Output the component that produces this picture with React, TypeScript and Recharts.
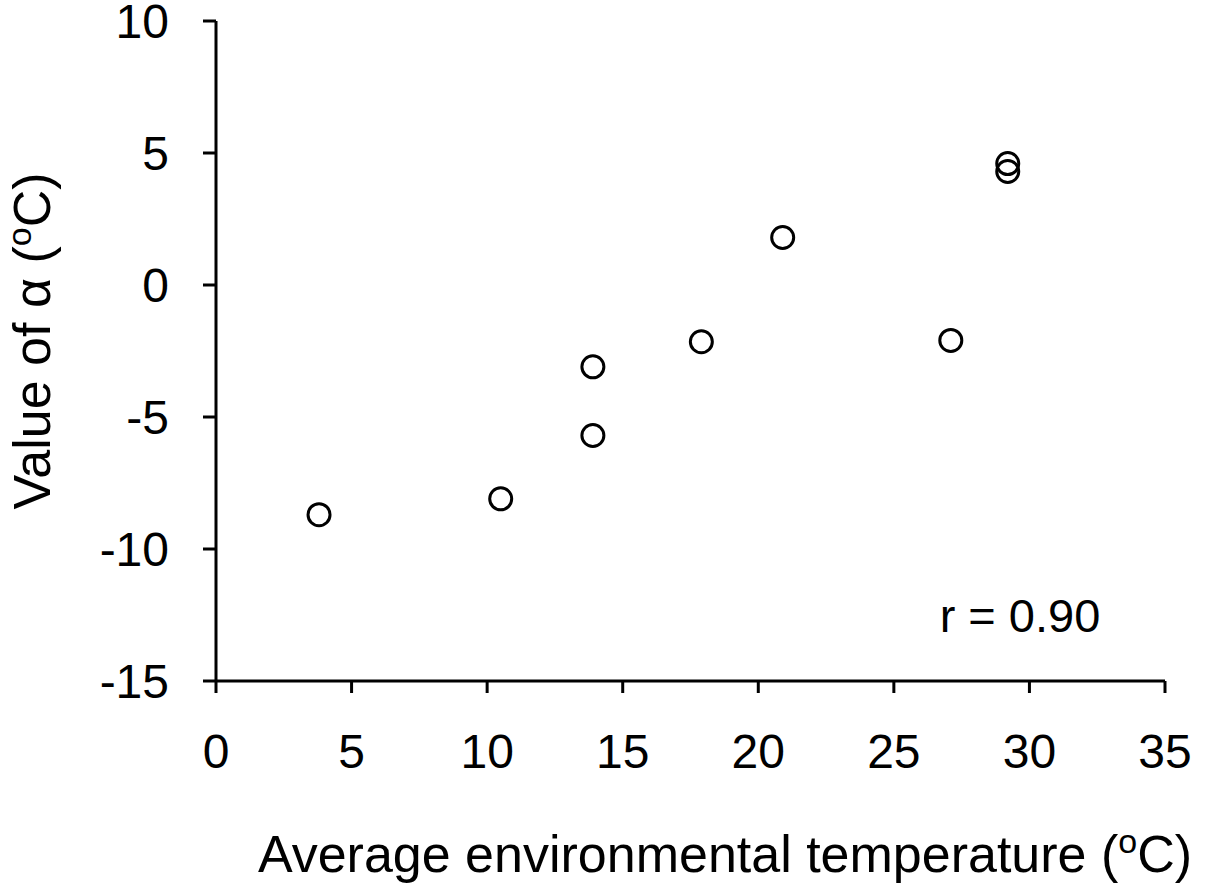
import React from "react";
import { ScatterChart, Scatter, XAxis, YAxis, Customized } from "recharts";

const temps = [3.8, 10.5, 13.9, 13.9, 17.9, 20.9, 27.1, 29.2, 29.2];
const alphas = [-8.7, -8.1, -3.1, -5.7, -2.15, 1.8, -2.1, 4.6, 4.3];
const xTicks = [0, 5, 10, 15, 20, 25, 30, 35];
const yTicks = [-15, -10, -5, 0, 5, 10];

const data = temps.map((t, i) => ({ x: t, y: alphas[i] }));

const font = "'Liberation Sans', Arial, sans-serif";

const Ring = (props: any) => (
  <circle cx={props.cx} cy={props.cy} r={11} fill="none" stroke="#000" strokeWidth={3} />
);

const Titles = () => (
  <g fontFamily={font} fill="#000">
    <text x={725} y={872} fontSize={52} textAnchor="middle">
      Average environmental temperature (
      <tspan fontSize={34} dy={-19}>o</tspan>
      <tspan dy={19}>C)</tspan>
    </text>
    <text x={50} y={341} fontSize={52} textAnchor="middle" transform="rotate(-90, 50, 341)">
      Value of α (
      <tspan fontSize={34} dy={-19}>o</tspan>
      <tspan dy={19}>C)</tspan>
    </text>
    <text x={1020} y={632} fontSize={47} textAnchor="middle">
      r = 0.90
    </text>
  </g>
);

export default function App() {
  return (
    <div style={{ position: "absolute", left: 0, top: 0, background: "#fff" }}>
      <ScatterChart width={1212} height={883} margin={{ top: 21, right: 47, left: 0, bottom: 0 }}>
        <XAxis
          type="number"
          dataKey="x"
          domain={[0, 35]}
          ticks={xTicks}
          height={202}
          tickSize={12}
          tickMargin={41}
          axisLine={{ stroke: "#000", strokeWidth: 3 }}
          tickLine={{ stroke: "#000", strokeWidth: 3 }}
          tick={{ fill: "#000", fontSize: 48, fontFamily: font }}
          interval={0}
        />
        <YAxis
          type="number"
          dataKey="y"
          domain={[-15, 10]}
          ticks={yTicks}
          width={216}
          tickSize={13}
          tickMargin={34}
          axisLine={{ stroke: "#000", strokeWidth: 3 }}
          tickLine={{ stroke: "#000", strokeWidth: 3 }}
          tick={{ fill: "#000", fontSize: 48, fontFamily: font }}
          interval={0}
        />
        <Scatter data={data} shape={Ring} isAnimationActive={false} />
        <Customized component={Titles} />
      </ScatterChart>
    </div>
  );
}
